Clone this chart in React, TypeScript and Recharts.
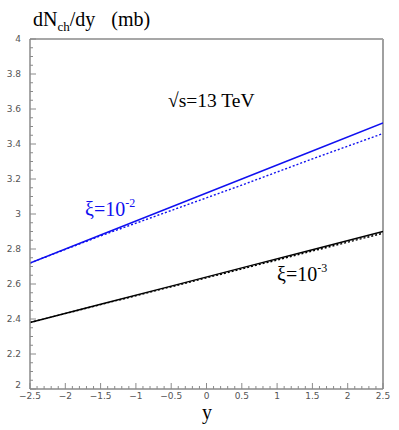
import React from 'react';
import { LineChart, Line, XAxis, YAxis, ReferenceLine } from 'recharts';

const rapidity = [-2.5, -1.5, -0.5, 0.5, 1.5, 2.5];
const blueSolid = [2.72, 2.88, 3.04, 3.2, 3.36, 3.52];
const blueDotted = [2.72, 2.875, 3.02, 3.165, 3.315, 3.46];
const blackSolid = [2.38, 2.484, 2.588, 2.692, 2.796, 2.9];
const blackDotted = [2.38, 2.482, 2.584, 2.686, 2.788, 2.89];

const xMajor = [-2.5, -2, -1.5, -1, -0.5, 0, 0.5, 1, 1.5, 2, 2.5];
const yMajor = [2, 2.2, 2.4, 2.6, 2.8, 3, 3.2, 3.4, 3.6, 3.8, 4];

const xTicks: number[] = [];
for (let i = -25; i <= 25; i++) xTicks.push(i / 10);
const yTicks: number[] = [];
for (let i = 40; i <= 80; i++) yTicks.push(i / 20);

const data = rapidity.map((x, i) => ({
  x,
  bs: blueSolid[i],
  bd: blueDotted[i],
  ks: blackSolid[i],
  kd: blackDotted[i],
}));

const isMajor = (v: number, list: number[]) => list.some((m) => Math.abs(m - v) < 1e-6);
const fmt = (v: number) => {
  const s = String(Math.round(v * 100) / 100);
  return s.replace('-', '\u2212');
};

const AXIS = '#8a8a8a';
const LABEL = '#555';

const XTick = (props: any) => {
  const { x, y, payload } = props;
  const v = payload.value;
  const major = isMajor(v, xMajor);
  return (
    <g>
      <line x1={x} x2={x} y1={y} y2={y - (major ? 6 : 3)} stroke={AXIS} strokeWidth={1} />
      {major && (
        <text x={x} y={y + 10} textAnchor="middle" fontSize={9} fill={LABEL} fontFamily="DejaVu Sans">
          {fmt(v)}
        </text>
      )}
    </g>
  );
};

const YTick = (props: any) => {
  const { x, y, payload } = props;
  const v = payload.value;
  const major = isMajor(v, yMajor);
  const dy = Math.abs(v - 2) < 1e-6 ? -1 : 3;
  return (
    <g>
      <line x1={x} x2={x + (major ? 6 : 3)} y1={y} y2={y} stroke={AXIS} strokeWidth={1} />
      {major && (
        <text x={x - 9} y={y + dy} textAnchor="end" fontSize={9} fill={LABEL} fontFamily="DejaVu Sans">
          {fmt(v)}
        </text>
      )}
    </g>
  );
};

export default function App() {
  const serif = "'Liberation Serif', 'Times New Roman', serif";
  return (
    <div style={{ position: 'absolute', left: 0, top: 0, width: 399, height: 430, background: '#fff' }}>
      <LineChart width={399} height={430} data={data} margin={{ top: 39, right: 16, left: 0, bottom: 0 }}>
        <XAxis
          dataKey="x"
          type="number"
          domain={[-2.5, 2.5]}
          ticks={xTicks}
          interval={0}
          height={41}
          tickSize={0}
          tickMargin={0}
          tickLine={false}
          tick={<XTick />}
          stroke={AXIS}
          strokeWidth={1.5}
          allowDataOverflow
        />
        <YAxis
          type="number"
          domain={[2, 4]}
          ticks={yTicks}
          interval={0}
          width={30}
          tickSize={0}
          tickMargin={0}
          tickLine={false}
          tick={<YTick />}
          stroke={AXIS}
          strokeWidth={1.5}
          allowDataOverflow
        />
        <ReferenceLine y={4} stroke={AXIS} strokeWidth={1.5} />
        <ReferenceLine x={2.5} stroke="#a0a0a0" strokeWidth={2} />
        <Line dataKey="bs" stroke="#1010f0" strokeWidth={1.4} dot={false} isAnimationActive={false} />
        <Line dataKey="bd" stroke="#1010f0" strokeWidth={1.4} strokeDasharray="2 2" dot={false} isAnimationActive={false} />
        <Line dataKey="ks" stroke="#000" strokeWidth={1.4} dot={false} isAnimationActive={false} />
        <Line dataKey="kd" stroke="#000" strokeWidth={1.4} strokeDasharray="2 2" dot={false} isAnimationActive={false} />
      </LineChart>
      <svg width={399} height={430} style={{ position: 'absolute', left: 0, top: 0, pointerEvents: 'none' }}>
        <text x={33} y={26} fontSize={20} fontFamily={serif} fill="#000">
          dN<tspan fontSize={13} dy={5}>ch</tspan>
          <tspan dy={-5}>/dy</tspan>
          <tspan dx={16}>(mb)</tspan>
        </text>
        <text x={168} y={107} fontSize={19.5} fontFamily={serif} fill="#000">
          √s=13 TeV
        </text>
        <text x={85} y={216} fontSize={20} fontFamily={serif} fill="#1010f0">
          ξ=10<tspan fontSize={12} dy={-9}>-2</tspan>
        </text>
        <text x={277} y={281} fontSize={20} fontFamily={serif} fill="#000">
          ξ=10<tspan fontSize={12} dy={-9}>-3</tspan>
        </text>
        <text x={202} y={419} fontSize={20} fontFamily={serif} fill="#000">
          y
        </text>
      </svg>
    </div>
  );
}
